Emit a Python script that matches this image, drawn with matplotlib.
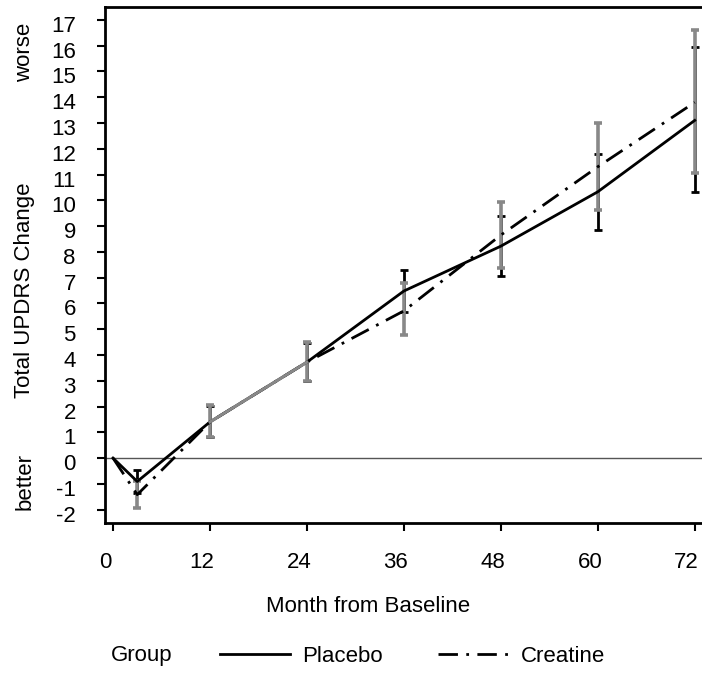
import matplotlib
matplotlib.use("Agg")
import matplotlib.pyplot as plt
import matplotlib.transforms as mtransforms
from matplotlib.lines import Line2D

plt.rcParams['font.family'] = ['Liberation Sans', 'DejaVu Sans']

months = [0, 3, 12, 24, 36, 48, 60, 72]
placebo = [0, -0.91, 1.40, 3.72, 6.48, 8.22, 10.33, 13.10]
placebo_lo = [0, -1.37, 0.80, 3.00, 5.66, 7.07, 8.85, 10.33]
placebo_hi = [0, -0.45, 2.02, 4.46, 7.30, 9.39, 11.79, 15.93]
creatine = [0, -1.42, 1.40, 3.72, 5.71, 8.65, 11.30, 13.80]
creatine_lo = [0, -1.94, 0.80, 2.98, 4.76, 7.36, 9.62, 11.07]
creatine_hi = [0, -0.90, 2.05, 4.50, 6.80, 9.95, 12.98, 16.62]

xticks = [0, 12, 24, 36, 48, 60, 72]
yticks = list(range(-2, 18))

FS = 16
DASHDOT = (0, (7, 3, 1, 3))
fig = plt.figure(figsize=(7.02, 6.73), dpi=100)
ax = fig.add_axes([105/702, 1-523/673, 1.0 - 105/702, (523-7)/673])

gray = '#888888'

ax.axhline(0, color='#555555', lw=1.0, zorder=1)

def ebar(x, y, lo, hi, color, lw, z):
    xs = x[1:]
    ys = y[1:]
    err = [[a - b for a, b in zip(ys, lo[1:])], [b - a for a, b in zip(ys, hi[1:])]]
    ax.errorbar(xs, ys, yerr=err, fmt='none', ecolor=color, elinewidth=lw,
                capsize=3, capthick=lw, zorder=z)

ebar(months, placebo, placebo_lo, placebo_hi, 'black', 2.0, 2)
ebar(months, creatine, creatine_lo, creatine_hi, gray, 2.6, 3)

ax.plot(months, placebo, color='black', lw=2.0, ls='-', zorder=4)
ax.plot(months, creatine, color='black', lw=2.0, ls=DASHDOT, zorder=4)
ax.plot(months[2:4], placebo[2:4], color=gray, lw=2.2, zorder=5)

ax.set_xlim(-0.99, 72.9)
ax.set_ylim(-2.52, 17.5)
ax.set_xticks(xticks)
ax.set_xticklabels([str(v) for v in xticks])
ax.set_yticks(yticks)
ax.set_yticklabels([str(v) for v in yticks])
ax.tick_params(axis='both', direction='out', length=6, width=1.5, labelsize=FS)
ax.tick_params(axis='x', pad=15)
ax.tick_params(axis='y', pad=15)
ax.spines['right'].set_visible(False)
for s in ['left', 'bottom', 'top']:
    ax.spines[s].set_linewidth(2.0)

offx = mtransforms.ScaledTranslation(-8/100, 0, fig.dpi_scale_trans)
for lab in ax.get_xticklabels():
    lab.set_transform(lab.get_transform() + offx)
offy = mtransforms.ScaledTranslation(0, -4/100, fig.dpi_scale_trans)
for lab in ax.get_yticklabels():
    lab.set_transform(lab.get_transform() + offy)

fig.text(368/702, 1-607/673, 'Month from Baseline', ha='center', va='center', fontsize=FS)
fig.text(25/702, 1-290/673, 'Total UPDRS Change', rotation=90, ha='center', va='center', fontsize=FS)
fig.text(25/702, 1-52/673, 'worse', rotation=90, ha='center', va='center', fontsize=FS)
fig.text(25/702, 1-482/673, 'better', rotation=90, ha='center', va='center', fontsize=FS)

fig.text(142/702, 1-656/673, 'Group', ha='center', va='center', fontsize=FS)
handles = [Line2D([], [], color='black', lw=2.0, ls='-'),
           Line2D([], [], color='black', lw=2.0, ls=DASHDOT)]
fig.legend(handles, ['Placebo', 'Creatine'], loc='center left', bbox_to_anchor=(220/702, 1-656/673),
           ncol=2, frameon=False, fontsize=FS, handlelength=3.15, columnspacing=2.5,
           handletextpad=0.55, borderaxespad=0, borderpad=0)

fig.savefig('out.png', dpi=100)
